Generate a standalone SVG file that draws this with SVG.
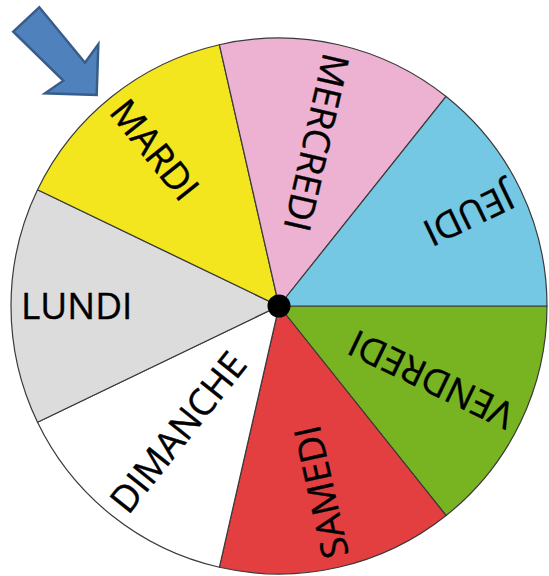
<svg xmlns="http://www.w3.org/2000/svg" width="549" height="576" viewBox="0 0 549 576">
<style>
.seg{stroke:#3a3a3a;stroke-width:1.2;stroke-linejoin:round}
.lbl{font-family:"Open Sans","Liberation Sans",sans-serif;font-size:37px;fill:#000;stroke:#000;stroke-width:0.4}
</style>
<rect width="549" height="576" fill="#fff"/>
<g id="wheel">
<g id="vendredi"><path class="seg" fill="#78B421" d="M279,306 L547,306 A268,268 0 0,1 446.10,515.53 Z"/><text class="lbl" x="21" y="319" transform="rotate(205.714 279 306)">VENDREDI</text></g>
<g id="samedi"><path class="seg" fill="#E33F40" d="M279,306 L446.10,515.53 A268,268 0 0,1 219.36,567.28 Z"/><text class="lbl" x="21" y="319" transform="rotate(257.143 279 306)">SAMEDI</text></g>
<g id="dimanche"><path class="seg" fill="#FFFFFF" d="M279,306 L219.36,567.28 A268,268 0 0,1 37.54,422.28 Z"/><text class="lbl" x="21" y="319" transform="rotate(308.571 279 306)">DIMANCHE</text></g>
<g id="lundi"><path class="seg" fill="#DCDCDC" d="M279,306 L37.54,422.28 A268,268 0 0,1 37.54,189.72 Z"/><text class="lbl" x="21" y="319">LUNDI</text></g>
<g id="mardi"><path class="seg" fill="#F4E61E" d="M279,306 L37.54,189.72 A268,268 0 0,1 219.36,44.72 Z"/><text class="lbl" x="21" y="319" transform="rotate(51.429 279 306)">MARDI</text></g>
<g id="mercredi"><path class="seg" fill="#EDB1D1" d="M279,306 L219.36,44.72 A268,268 0 0,1 446.10,96.47 Z"/><text class="lbl" x="21" y="319" transform="rotate(102.857 279 306)">MERCREDI</text></g>
<g id="jeudi"><path class="seg" fill="#75C8E3" d="M279,306 L446.10,96.47 A268,268 0 0,1 547,306 Z"/><text class="lbl" x="21" y="319" transform="rotate(154.286 279 306)">JEUDI</text></g>
<circle id="hub" cx="279" cy="306" r="11.5" fill="#000"/>
</g>
<g id="pointer">
<polygon points="13.3,31.7 39.3,7.3 85,62.7 98.3,44.3 96.7,95 45,93.3 63.3,80.7" fill="#4F81BD" stroke="#385D8A" stroke-width="2.5" stroke-linejoin="miter"/>
</g>
</svg>
